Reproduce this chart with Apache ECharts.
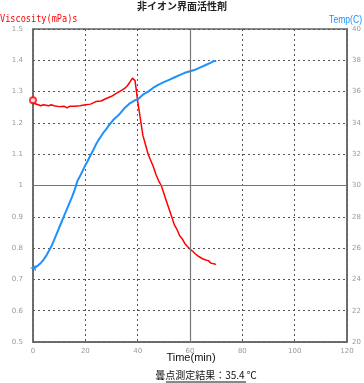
<!DOCTYPE html>
<html><head><meta charset="utf-8">
<script src="https://cdn.jsdelivr.net/npm/echarts@6/dist/echarts.min.js"></script>
<style>html,body{margin:0;padding:0;background:#fff}#c{width:364px;height:383px}</style>
</head><body><div id="c"></div>
<script>
const viscTime = [0,0.5,2,3,4,6,7,8,10,12,13,14,16,18,20,22,24,26,28,30,32,34,35,36,37,38,39,40,41,42,43,44,45,46,47,48,49,50,51,52,53,54,55,56,57,58,59,60,61,62,63,64,65,66,67,68,69,70];
const viscosity = [1.272,1.262,1.258,1.255,1.258,1.255,1.258,1.255,1.252,1.253,1.248,1.253,1.253,1.255,1.258,1.26,1.268,1.27,1.278,1.285,1.295,1.305,1.31,1.318,1.33,1.343,1.335,1.27,1.215,1.16,1.13,1.1,1.08,1.06,1.035,1.015,1.0,0.975,0.95,0.925,0.9,0.875,0.86,0.84,0.83,0.815,0.805,0.797,0.79,0.782,0.775,0.77,0.765,0.762,0.76,0.752,0.75,0.748];
const tempTime = [0,1,2,3,4,5,6,7,8,9,10,11,12,13,14,15,16,17,18,19,20,21,22,23,24,25,26,27,28,29,30,31,32,33,34,35,36,37,38,39,40,42,44,46,48,50,52,54,56,58,60,62,64,66,68,69,70];
const temperature = [24.73,24.78,24.9,25.05,25.25,25.5,25.8,26.1,26.5,26.9,27.3,27.7,28.1,28.5,28.9,29.3,29.75,30.3,30.6,30.95,31.3,31.6,31.95,32.25,32.6,32.9,33.15,33.4,33.6,33.85,34.05,34.25,34.4,34.55,34.75,34.95,35.1,35.25,35.35,35.45,35.5,35.8,36.0,36.25,36.45,36.6,36.75,36.9,37.05,37.2,37.3,37.4,37.55,37.7,37.85,37.95,37.95];
const title = '非イオン界面活性剤';
const leftName = 'Viscosity(mPa)s';
const rightName = 'Temp(C)';
const xName = 'Time(min)';
const resultText = '曇点測定結果：35.4 ℃';

const chart = echarts.init(document.getElementById('c'));
const lbl = {fontSize:7, color:'#999', fontFamily:'DejaVu Sans'};
const split = {show:true, lineStyle:{type:[2,3], color:'#555', width:1}};
chart.setOption({
  animation:false,
  grid:{left:33,right:17,top:29,bottom:41,show:true,borderColor:'#666',borderWidth:1.5},
  xAxis:{type:'value',min:0,max:120,interval:20,
    axisLine:{show:true,lineStyle:{color:'#666',width:1.5}},axisTick:{show:false},
    axisLabel:Object.assign({margin:6},lbl),splitLine:split},
  yAxis:[
    {type:'value',min:0.5,max:1.5,interval:0.1,position:'left',
      axisLine:{show:true,lineStyle:{color:'#666',width:1.5}},axisTick:{show:false},
      axisLabel:Object.assign({margin:10,formatter:v=>String(Math.round(v*10)/10)},lbl),splitLine:split},
    {type:'value',min:20,max:40,interval:2,position:'right',
      axisLine:{show:true,lineStyle:{color:'#666',width:1.5}},axisTick:{show:false},
      axisLabel:Object.assign({margin:5},lbl),splitLine:{show:false}}
  ],
  series:[
    {type:'line',yAxisIndex:0,data:viscTime.map((t,i)=>[t,viscosity[i]]),symbol:'none',
      lineStyle:{color:'#ff0000',width:1.5},z:3,
      markLine:{silent:true,symbol:'none',label:{show:false},
        lineStyle:{type:'solid',color:'#777',width:1.2},
        data:[{xAxis:60},{yAxis:1}]}},
    {type:'line',yAxisIndex:1,data:tempTime.map((t,i)=>[t,temperature[i]]),symbol:'none',
      lineStyle:{color:'#1e90ff',width:2},z:4},
    {type:'scatter',yAxisIndex:0,data:[[viscTime[0],viscosity[0]]],symbol:'emptyCircle',symbolSize:6,
      itemStyle:{color:'#ff0000',borderColor:'#ff0000',borderWidth:1.2},z:5},
    {type:'scatter',yAxisIndex:1,data:[[tempTime[0],temperature[0]]],symbol:'triangle',symbolSize:6,symbolRotate:90,
      itemStyle:{color:'#1e90ff'},z:5}
  ],
  graphic:[
    {type:'text',left:'center',top:1,style:{text:title,font:'bold 10px "Noto Sans CJK JP"',fill:'#222'},x:6},
    {type:'text',x:0,y:14,scaleX:0.78,style:{text:leftName,font:'11px "DejaVu Sans Mono"',fill:'#ff0000'}},
    {type:'text',x:362,y:14,scaleX:0.78,style:{text:rightName,font:'11px "Liberation Sans"',fill:'#1e90ff',align:'right'}},
    {type:'text',x:191,y:352,style:{text:xName,font:'11px "Liberation Sans"',fill:'#111',align:'center'}},
    {type:'text',x:206,y:370,style:{text:resultText,font:'10px "Noto Sans CJK JP"',fill:'#111',align:'center'}},
    {type:'line',shape:{x1:166,y1:382,x2:246,y2:382},style:{stroke:'#111',lineWidth:1}}
  ]
});
</script></body></html>
